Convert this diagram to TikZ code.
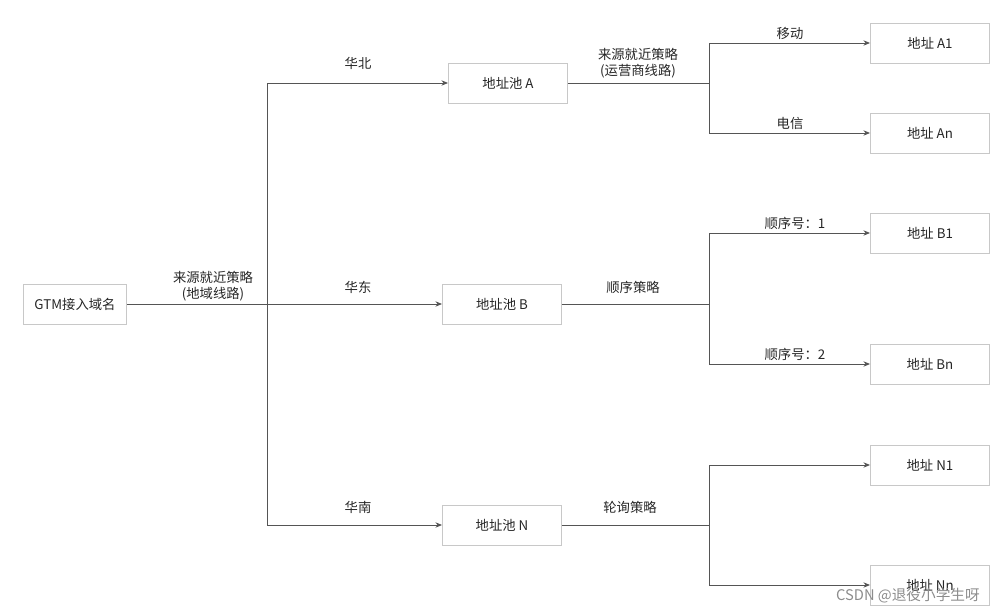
\documentclass[tikz,border=0pt]{standalone}
\usepackage{fontspec}
\setmainfont{Noto Sans CJK SC}
\usetikzlibrary{arrows.meta}
\definecolor{bx}{HTML}{C8C8C8}
\definecolor{ln}{HTML}{555555}
\begin{document}
\begin{tikzpicture}[x=0.75pt,y=-0.75pt,
  box/.style={draw=bx,line width=0.6pt,minimum width=89.25pt,minimum height=30pt,inner sep=0pt,font=\fontsize{10pt}{12pt}\selectfont,text=black!85},
  small/.style={box,minimum width=77.25pt},
  ln/.style={draw=ln,line width=0.7pt},
  arr/.style={ln,-{Stealth[length=5pt,width=4pt]}},
  lab/.style={font=\fontsize{10pt}{12pt}\selectfont,text=black!85,align=center,inner sep=1pt}]
\useasboundingbox (0,0) rectangle (1008,613);
\node[small] (g) at (75,304) {GTM接入域名};
\node[box] (pa) at (508,83) {地址池 A};
\node[box] (pb) at (502,304) {地址池 B};
\node[box] (pn) at (502,525) {地址池 N};
\node[box] (a1) at (930,43) {地址 A1};
\node[box] (an) at (930,133) {地址 An};
\node[box] (b1) at (930,233) {地址 B1};
\node[box] (bn) at (930,364) {地址 Bn};
\node[box] (n1) at (930,465) {地址 N1};
\node[box] (nn) at (930,585) {地址 Nn};
\coordinate (t) at (267,304);
\coordinate (ta) at (709,83);
\coordinate (tb) at (709,304);
\coordinate (tn) at (709,525);
\draw[ln] (g.east) -- (t);
\draw[arr] (t) |- (pa.west);
\draw[arr] (t) -- (pb.west);
\draw[arr] (t) |- (pn.west);
\draw[ln] (pa.east) -- (ta);
\draw[arr] (ta) |- (a1.west);
\draw[arr] (ta) |- (an.west);
\draw[ln] (pb.east) -- (tb);
\draw[arr] (tb) |- (b1.west);
\draw[arr] (tb) |- (bn.west);
\draw[ln] (pn.east) -- (tn);
\draw[arr] (tn) |- (n1.west);
\draw[arr] (tn) |- (nn.west);
\node[lab] at (213,286) {来源就近策略\\(地域线路)};
\node[lab] at (358,63) {华北};
\node[lab] at (358,287) {华东};
\node[lab] at (358,507) {华南};
\node[lab] at (638,63) {来源就近策略\\(运营商线路)};
\node[lab] at (633,287) {顺序策略};
\node[lab] at (630,507) {轮询策略};
\node[lab] at (790,33) {移动};
\node[lab] at (790,123) {电信};
\node[lab] at (795,223) {顺序号：1};
\node[lab] at (795,354) {顺序号：2};
\node[lab,text=black!45,font=\fontsize{11pt}{13pt}\selectfont] at (908,596) {CSDN @退役小学生呀};
\end{tikzpicture}
\end{document}
